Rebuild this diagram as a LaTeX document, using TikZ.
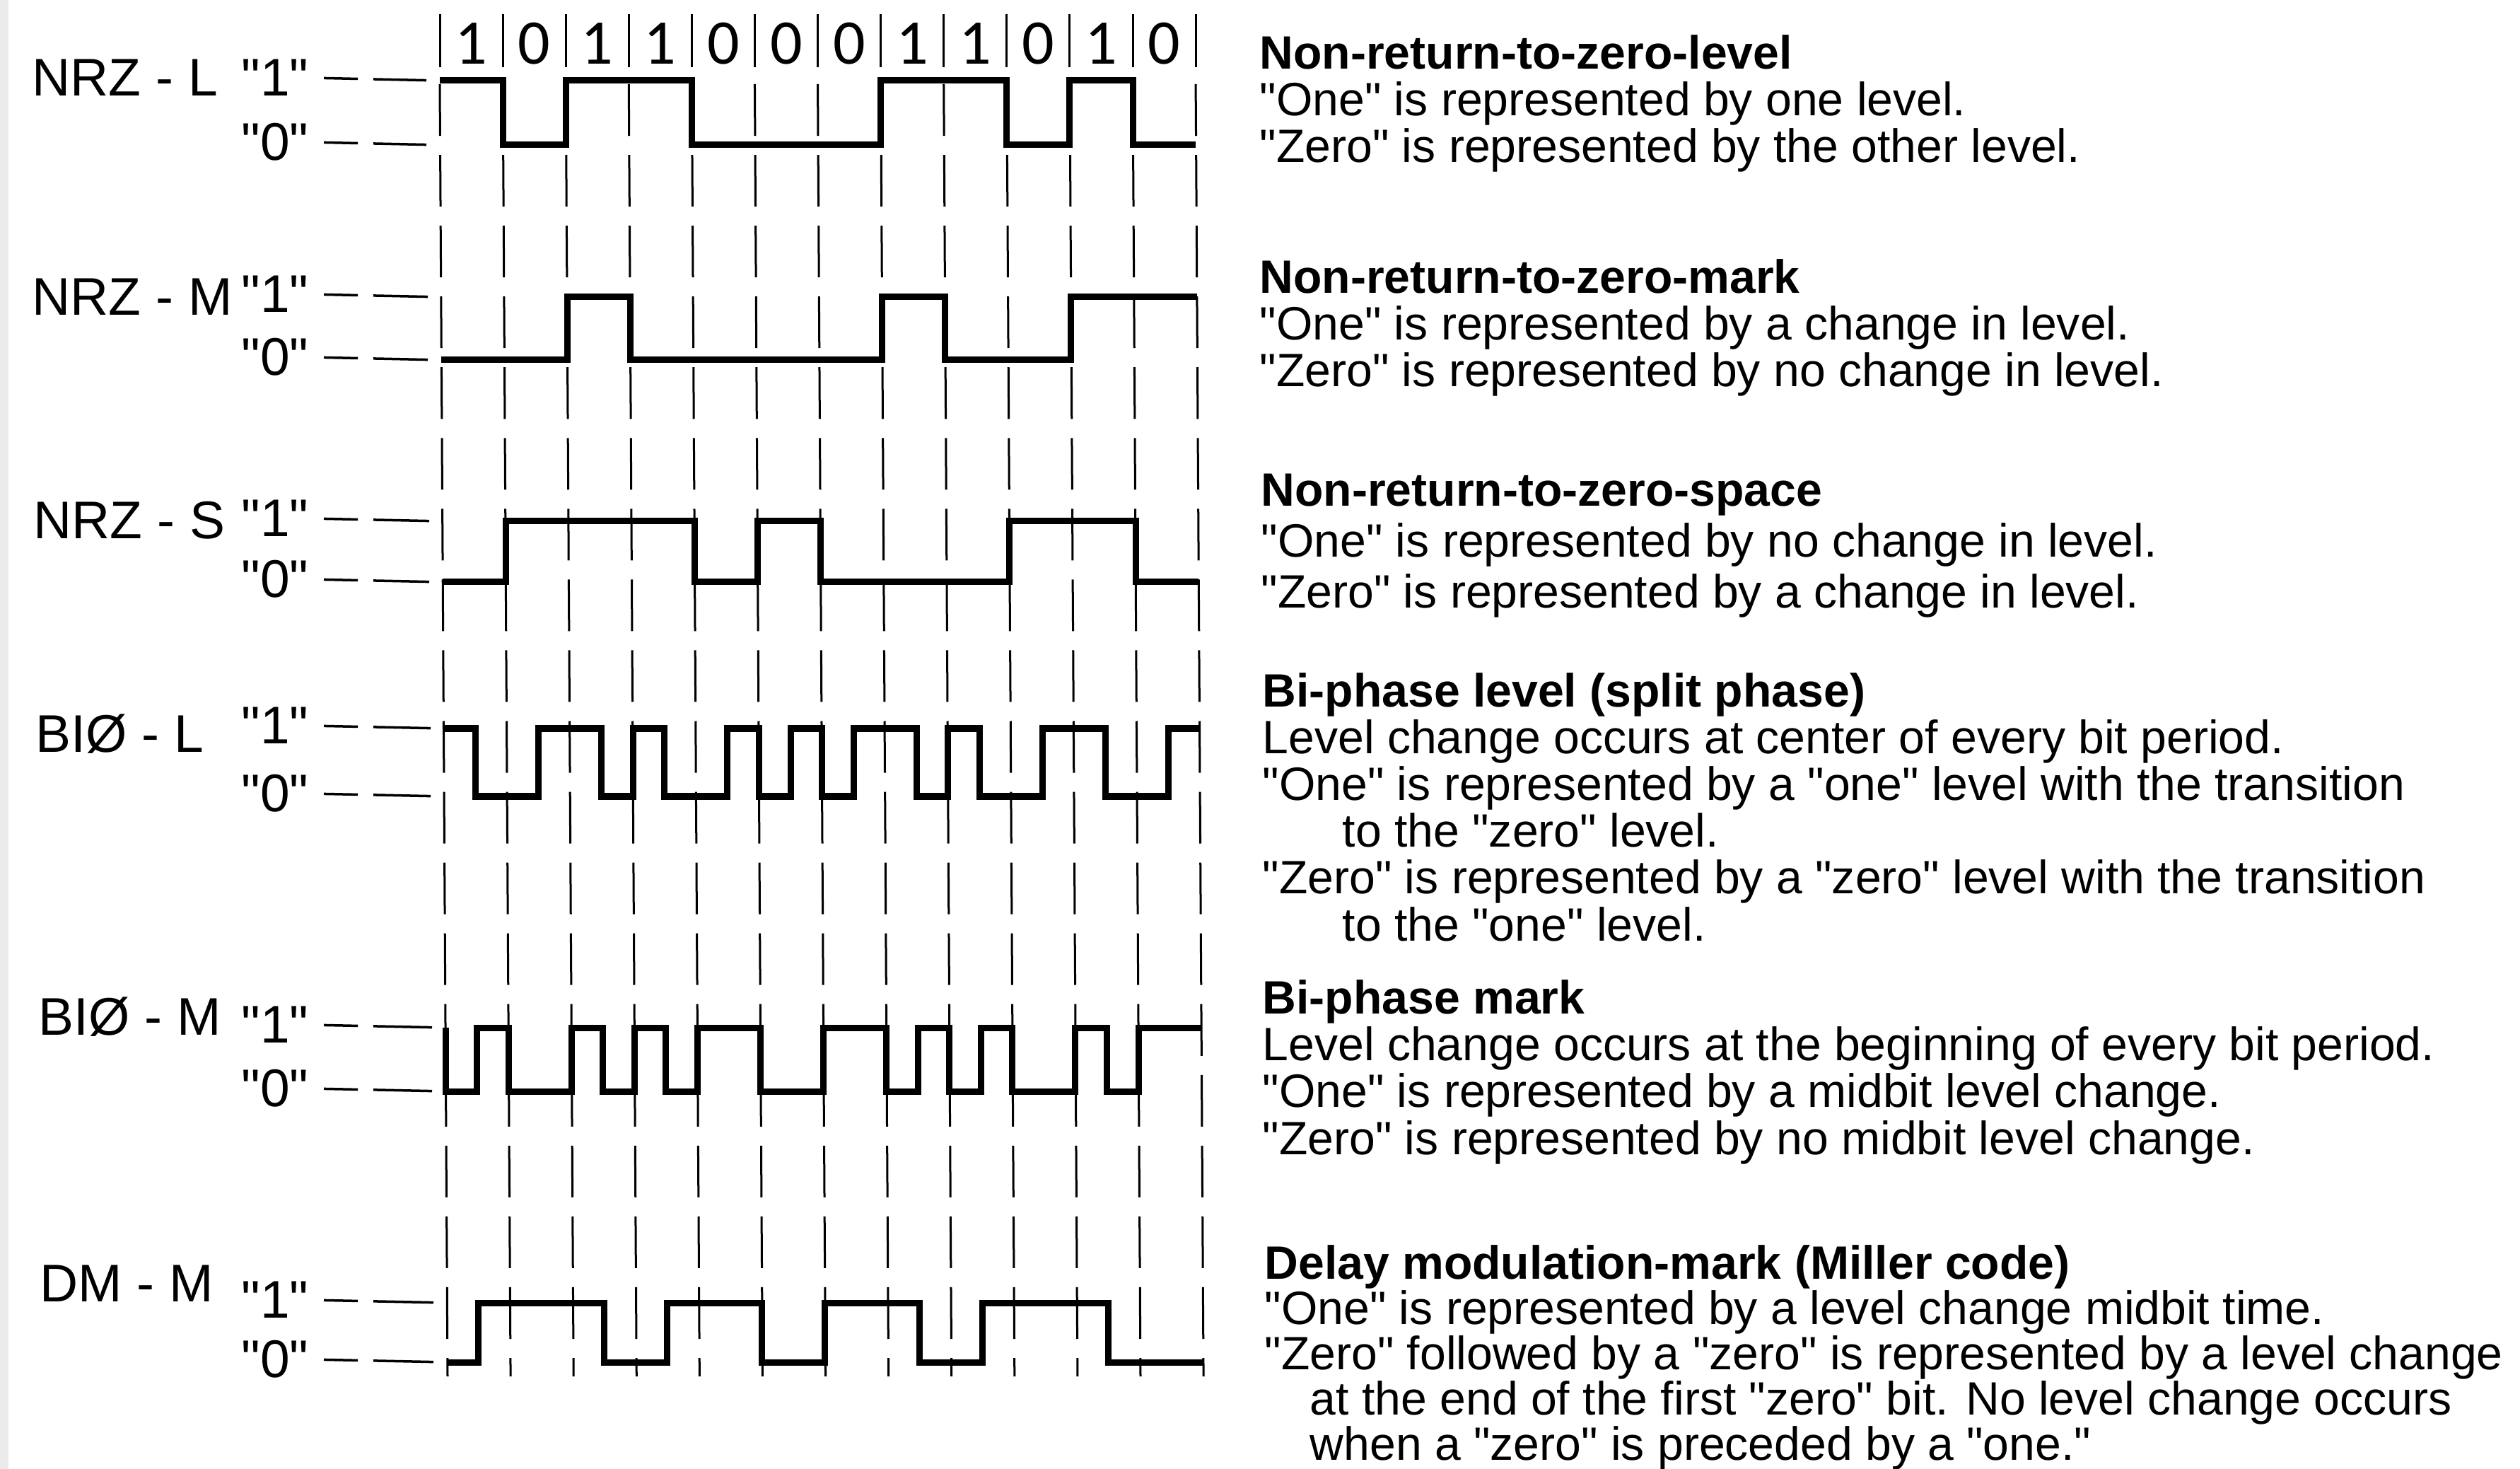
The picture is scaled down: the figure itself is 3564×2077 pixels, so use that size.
\documentclass[tikz,border=0pt]{standalone}
\usepackage{fontspec}
\setmainfont{Liberation Sans}[Ligatures=TeXOff]
\newfontfamily\bitfont{Carlito}
\begin{document}
\begin{tikzpicture}[x=0.01cm, y=-0.01cm,
  wave/.style={line width=0.9mm, line join=miter},
  gridline/.style={line width=0.3mm, dash pattern=on 7.3mm off 2.7mm},
  bitsep/.style={line width=0.3mm},
  bit/.style={inner sep=0, font=\bitfont\fontsize{25.6pt}{26pt}\selectfont},
  rowlabel/.style={anchor=west, inner sep=0, font=\fontsize{21.3pt}{22pt}\selectfont},
  lvl/.style={anchor=east, inner sep=0, font=\fontsize{21.3pt}{22pt}\selectfont},
  lvltick/.style={line width=0.35mm, shorten <=2.1mm, shorten >=1.9mm,
    dash pattern=on 4.8mm off 2.2mm on 10mm off 1mm},
  desc/.style={anchor=base west, align=left, inner sep=0,
    font=\fontsize{18.8pt}{18.8pt}\selectfont}
]
  \useasboundingbox (0,0) rectangle (3564,2077);
  \fill[black!8] (0,0) rectangle (12,2077);

  \foreach \b [count=\i from 0] in {1,0,1,1,0,0,0,1,1,0,1,0}
    \node[bit] (b\i) at ({666.5+89.09*\i}, 62) {\b};
  \foreach \i in {0,...,12} {
    \draw[bitsep] ({622+89.09*\i}, 20) -- ({622+89.09*\i}, 95);
    \draw[gridline] ({622+89.09*\i}, 119) -- ({633+89.09*\i}, 1946);
  }

  \foreach \r/\lbl/\nx/\ny/\hi/\lo/\dx/\st/\seq in {
    a/NRZ - L/45/110/114/205/0/1/{1,1,0,0,1,1,1,1,0,0,0,0,0,0,1,1,1,1,0,0,1,1,0,0},
    b/NRZ - M/45/420/420/509/2/0/{0,0,0,0,1,1,0,0,0,0,0,0,0,0,1,1,0,0,0,0,1,1,1,1},
    c/NRZ - S/47/736/737/823/4/0/{0,0,1,1,1,1,1,1,0,0,1,1,0,0,0,0,0,0,1,1,1,1,0,0},
    d/BIØ - L/50/1038/1030/1126/6/1/{1,0,0,1,1,0,1,0,0,1,0,1,0,1,1,0,1,0,0,1,1,0,0,1},
    e/BIØ - M/54/1438/1453/1543/8/1/{0,1,0,0,1,0,1,0,1,1,0,0,1,1,0,1,0,1,0,0,1,0,1,1},
    f/DM - M/56/1815/1842/1926/10/0/{0,1,1,1,1,0,0,1,1,1,0,0,1,1,1,0,0,1,1,1,1,0,0,0}} {
    \node[rowlabel] (n\r) at (\nx, \ny) {\lbl};
    \node[lvl] (one\r) at (437, \hi-4) {"1"};
    \node[lvl] (zero\r) at (437, \lo-4) {"0"};
    \coordinate (hi\r) at (622+\dx, \hi);
    \coordinate (lo\r) at (622+\dx, \lo);
    \draw[lvltick] (one\r.east) -- (hi\r);
    \draw[lvltick] (zero\r.east) -- (lo\r);
    \draw[wave] (622+\dx, {\lo-(\lo-\hi)*\st})
      \foreach \v [count=\k] in \seq { |- ({622+\dx+44.545*\k}, {\lo-(\lo-\hi)*\v}) };
  }

  \node[desc] (dnrzl) at (1781, 230) {\textbf{Non-return-to-zero-level}\\
    "One" is represented by one level.\\
    "Zero" is represented by the other level.};
  \node[desc] (dnrzm) at (1781, 547) {\textbf{Non-return-to-zero-mark}\\
    "One" is represented by a change in level.\\
    "Zero" is represented by no change in level.};
  \node[desc, font=\fontsize{18.8pt}{20.5pt}\selectfont] (dnrzs) at (1783, 860)
    {\textbf{Non-return-to-zero-space}\\
    "One" is represented by no change in level.\\
    "Zero" is represented by a change in level.};
  \node[desc] (dbil) at (1785, 1330) {\textbf{Bi-phase level (split phase)}\\
    Level change occurs at center of every bit period.\\
    "One" is represented by a "one" level with the transition\\
    \hspace*{11.3mm}to the "zero" level.\\
    "Zero" is represented by a "zero" level with the transition\\
    \hspace*{11.3mm}to the "one" level.};
  \node[desc] (dbim) at (1785, 1632) {\textbf{Bi-phase mark}\\
    Level change occurs at the beginning of every bit period.\\
    "One" is represented by a midbit level change.\\
    "Zero" is represented by no midbit level change.};
  \node[desc, font=\fontsize{18.8pt}{18.2pt}\selectfont] (ddmm) at (1788, 2064)
    {\textbf{Delay modulation-mark (Miller code)}\\
    "One" is represented by a level change midbit time.\\
    "Zero" followed by a "zero" is represented by a level change\\
    \hspace*{6.4mm}at the end of the first "zero" bit. No level change occurs\\
    \hspace*{6.4mm}when a "zero" is preceded by a "one."};
\end{tikzpicture}
\end{document}
